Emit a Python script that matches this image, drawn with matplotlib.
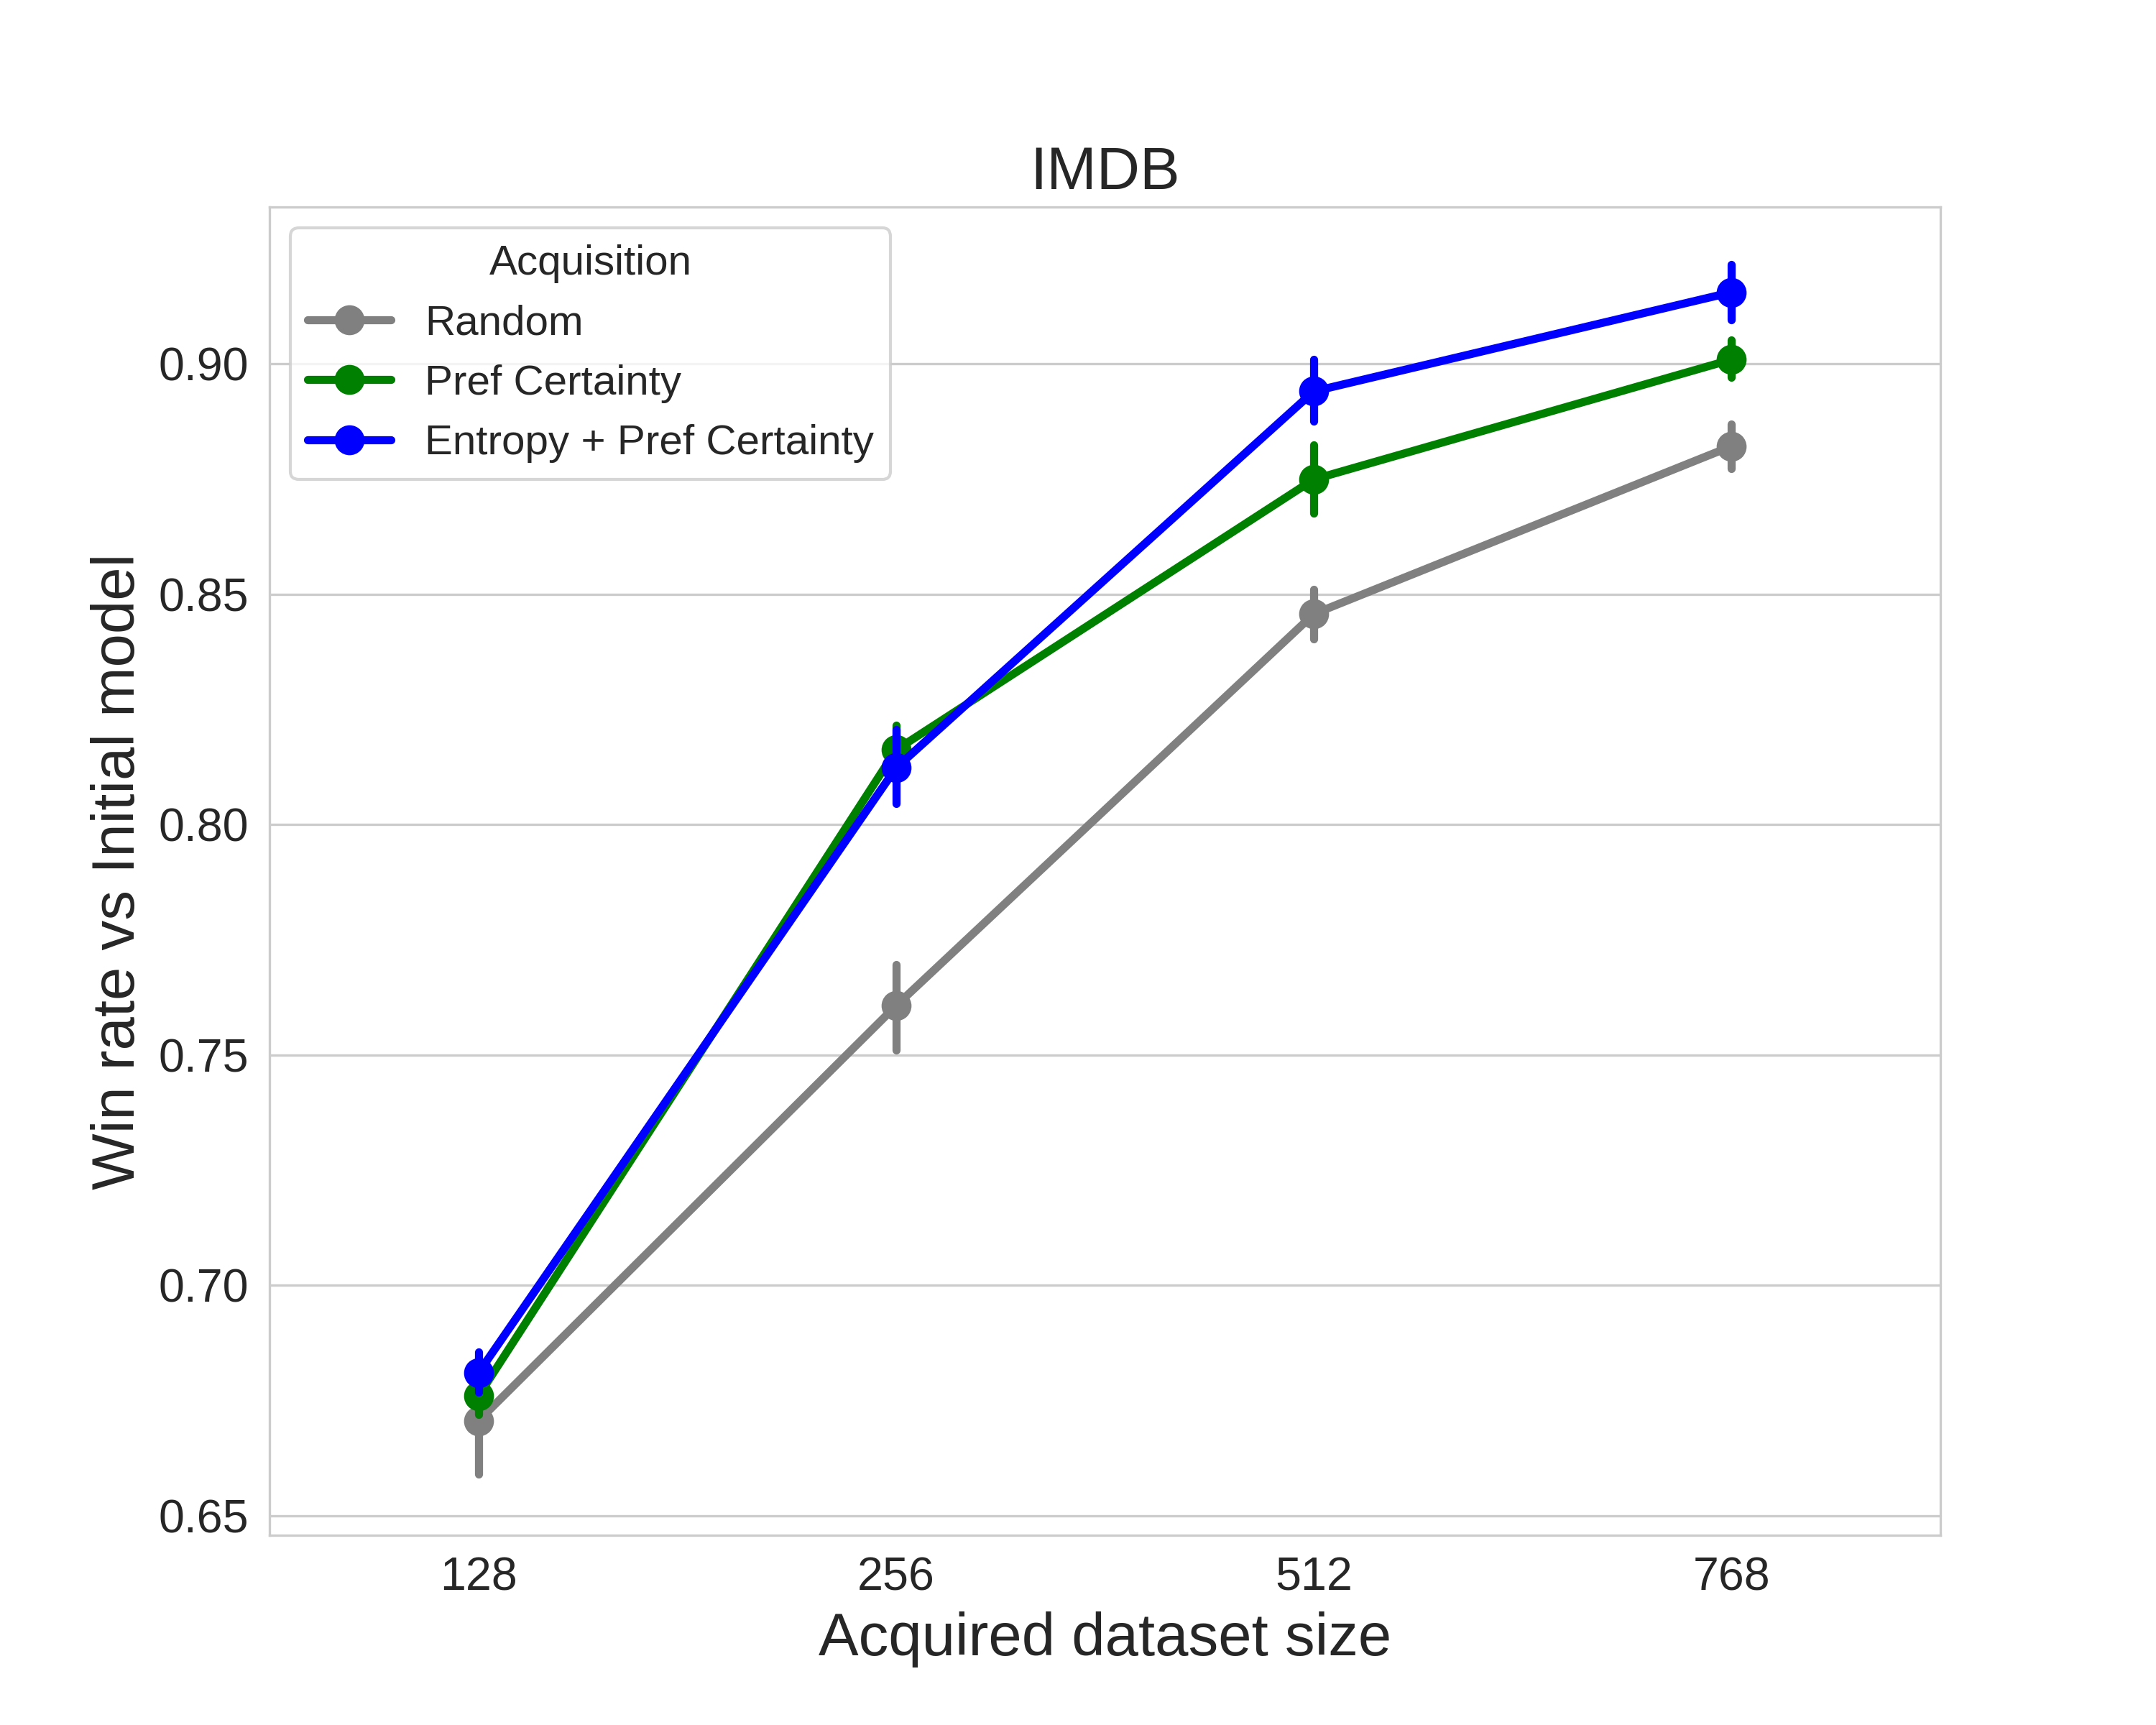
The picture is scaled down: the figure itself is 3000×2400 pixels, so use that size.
import numpy as np
import matplotlib
matplotlib.use("Agg")
import matplotlib.pyplot as plt
import seaborn as sns

# data
sizes = ["128", "256", "512", "768"]
labels = ["Random", "Pref Certainty", "Entropy + Pref Certainty"]
colors = ["grey", "green", "blue"]

random_mean = [0.6706, 0.7607, 0.8457, 0.8821]
random_lo = [0.6590, 0.7511, 0.8403, 0.8773]
random_hi = [0.6820, 0.7696, 0.8510, 0.8869]

pref_mean = [0.6760, 0.8162, 0.8749, 0.9009]
pref_lo = [0.6720, 0.8110, 0.8675, 0.8970]
pref_hi = [0.6800, 0.8215, 0.8824, 0.9051]

ent_mean = [0.6810, 0.8123, 0.8940, 0.9155]
ent_lo = [0.6768, 0.8045, 0.8875, 0.9095]
ent_hi = [0.6855, 0.8206, 0.9009, 0.9215]

means = [random_mean, pref_mean, ent_mean]
los = [random_lo, pref_lo, ent_lo]
his = [random_hi, pref_hi, ent_hi]

sns.set_style("whitegrid")
plt.rcParams["font.family"] = ["Liberation Sans", "DejaVu Sans"]

fig, ax = plt.subplots(figsize=(10, 8), dpi=300)
x = np.arange(len(sizes))

for i in range(len(labels)):
	# confidence interval bars
	for j in range(len(x)):
		ax.plot([x[j], x[j]], [los[i][j], his[i][j]], color=colors[i], lw=2.7,
				solid_capstyle="round", zorder=2 + i)
	ax.plot(x, means[i], color=colors[i], lw=2.7, marker="o", markersize=9,
			label=labels[i], zorder=2 + i)

ax.set_xticks(x)
ax.set_xticklabels(sizes)
ax.set_xlim(-0.5, len(sizes) - 0.5)
ax.set_ylim(0.6458, 0.934)
ax.set_yticks([0.65, 0.70, 0.75, 0.80, 0.85, 0.90])
ax.set_yticklabels(["0.65", "0.70", "0.75", "0.80", "0.85", "0.90"])
ax.xaxis.grid(False)
ax.tick_params(labelsize=15.5, colors=".15")

ax.set_title("IMDB", fontsize=20, color=".15")
ax.set_xlabel("Acquired dataset size", fontsize=20, color=".15")
ax.set_ylabel("Win rate vs Initial model", fontsize=20, color=".15")

leg = ax.legend(title="Acquisition", fontsize=14, title_fontsize=14, loc="upper left")

fig.savefig("out.png")
